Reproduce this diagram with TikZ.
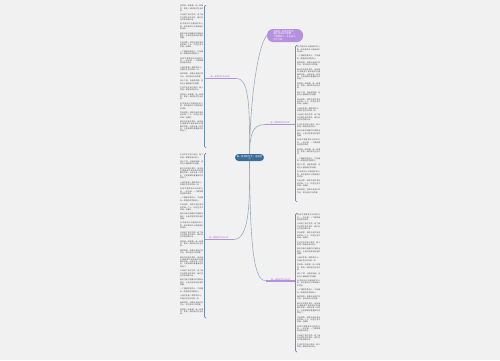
\documentclass[tikz,border=0pt]{standalone}
\usepackage{fontspec}
\setmainfont{Noto Sans CJK SC}
\XeTeXlinebreaklocale "zh"
\XeTeXlinebreakskip=0pt plus 1pt
\definecolor{bgc}{HTML}{F1F1F1}
\definecolor{cen}{HTML}{3E6E98}
\definecolor{pur}{HTML}{B690E0}
\definecolor{purtxt}{HTML}{9A6FD6}
\definecolor{link}{HTML}{9AACBF}
\definecolor{brk}{HTML}{6E8DB3}
\definecolor{gtxt}{HTML}{505050}
\newcommand\zwA{感恩是一种美德，是一种境界，更是一种积极的生活态度。}
\newcommand\zwB{父母给了我们生命，给了我们无微不至的关怀，我们应当学会感恩父母。}
\newcommand\zwC{老师用知识浇灌我们的心田，用辛勤的汗水换来我们的成长。}
\newcommand\zwD{朋友在我们困难的时候伸出援手，让我们感受到友谊的温暖。}
\newcommand\zwE{学会感恩，就是学会珍惜身边的每一个人，珍惜生活中的每一份美好。}
\newcommand\zwF{一个懂得感恩的人，才会拥有一颗善良而宽容的心。}
\newcommand\zwG{感恩不需要惊天动地的行动，一句问候、一个微笑都是感恩的表达。}
\newcommand\zwH{让我们怀着一颗感恩的心，去面对生活中的每一天。}
\newcommand\zwI{那年冬天格外寒冷，母亲每天清晨都为我准备好热腾腾的早饭，从来没有一句怨言，只是默默地看着我吃完再出门。}
\newcommand\zwJ{我常常想，如果没有他们的付出，就不会有今天的我。}
\newcommand\zwK{滴水之恩，当涌泉相报。这是古人留给我们的道理。}
\newcommand\zwL{生活中并不缺少感动，缺少的是一颗发现感动的心。}
\tikzset{
  textcol/.style={anchor=north west, inner sep=0pt, text width=23pt, align=justify, text=gtxt,
    font=\fontsize{1.85}{2.3}\selectfont},
  branch/.style={inner sep=0.5pt, text=purtxt, font=\fontsize{2.0}{2.4}\selectfont},
  underl/.style={pur, line width=1.1pt},
  link/.style={draw=link, line width=0.6pt},
  bracket/.style={draw=brk, line width=0.7pt},
}
\newcommand\colbody[1]{\setlength\parindent{0pt}\setlength\parskip{2.2pt}#1}
\begin{document}
\begin{tikzpicture}[x=1pt,y=-1pt]
\fill[bgc] (0,0) rectangle (500,360);
\useasboundingbox (0,0) rectangle (500,360);

% center
\node[fill=cen, rounded corners=3.5pt, text=white, font=\fontsize{2.3}{2.8}\selectfont,
  align=center, minimum width=29pt, minimum height=7pt, inner sep=0.6pt] (c) at (249.5,157.5)
  {高一感恩的作文：感恩的\\心};

% top purple node
\node[fill=pur, rounded corners=6pt, text=white, font=\fontsize{2.2}{2.7}\selectfont,
  text width=23pt, align=left, minimum height=13pt, inner xsep=6.5pt, inner ysep=1pt] (tp) at (285,35.5)
  {感恩是一种处世哲学，\\是生活中的大智慧。一\\个智慧的人，不应该为\\斤斤计较。};

% branch labels
\node[branch, anchor=south east, minimum width=31pt] (l1) at (236,78.3) {高一感恩的作文800字};
\node[branch, anchor=south west, minimum width=30pt] (r1) at (265,124.5) {高一感恩的作文800字};
\node[branch, anchor=south east, minimum width=29pt] (l2) at (233.5,239.5) {高一感恩的作文800字};
\node[branch, anchor=south west, minimum width=29pt] (r2) at (266,281) {高一感恩的作文800字};
\foreach \n in {l1,r1,l2,r2} \draw[underl] (\n.south west) -- (\n.south east);

% connectors
\draw[link] (c.north) .. controls (250,100) and (258,45) .. (tp.west);
\draw[link] (c.north) .. controls (250,100) and (248,78.3) .. (l1.south east);
\draw[link] (c.north) .. controls (250,135) and (252,124.5) .. (r1.south west);
\draw[link] (c.south) .. controls (250,205) and (249,239.5) .. (l2.south east);
\draw[link] (c.south) .. controls (250,255) and (255,281) .. (r2.south west);

% brackets
\draw[bracket] (206,5) -- (204.5,6.5) -- (204.5,146.5) -- (206,148);
\draw[bracket] (206,153) -- (204.5,154.5) -- (204.5,316.5) -- (206,318);
\draw[bracket] (297,45) -- (295.5,46.5) -- (295.5,200.5) -- (297,202);
\draw[bracket] (297,213) -- (295.5,214.5) -- (295.5,350.5) -- (297,352);

% text columns
\node[textcol] (tl1) at (180,5) {\colbody{\zwA\par\zwB\par\zwC\par\zwD\par\zwE\par\zwF\par\zwG\par\zwH\par\zwJ\par\zwK\par\zwL\par\zwA\par\zwC\par\zwE\par\zwI}};
\node[textcol] (tl2) at (180,154) {\colbody{\zwL\par\zwK\par\zwI\par\zwH\par\zwG\par\zwF\par\zwE\par\zwD\par\zwC\par\zwB\par\zwA\par\zwJ\par\zwI\par\zwB\par\zwD\par\zwF\par\zwH\par\zwJ\par\zwA}};
\node[textcol] (tr1) at (297,46) {\colbody{\zwC\par\zwF\par\zwJ\par\zwI\par\zwA\par\zwK\par\zwE\par\zwH\par\zwB\par\zwL\par\zwD\par\zwG\par\zwA\par\zwF\par\zwK\par\zwC\par\zwE\par\zwJ}};
\node[textcol] (tr2) at (297,214) {\colbody{\zwG\par\zwB\par\zwE\par\zwL\par\zwD\par\zwH\par\zwA\par\zwK\par\zwC\par\zwF\par\zwJ\par\zwI\par\zwE\par\zwG\par\zwB\par\zwL}};
\end{tikzpicture}
\end{document}
